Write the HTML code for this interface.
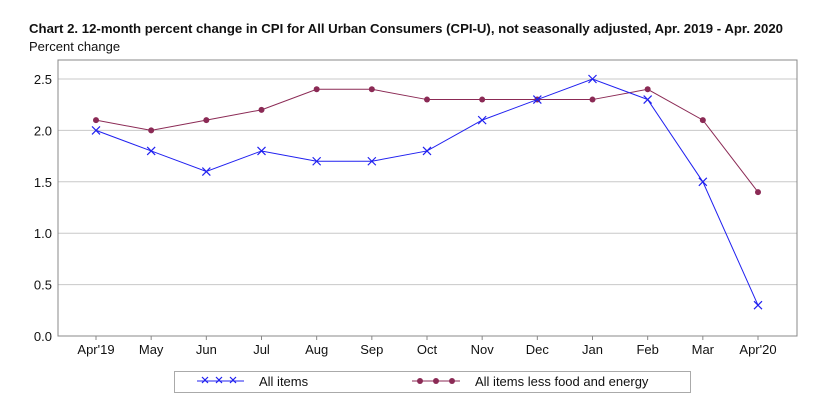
<!DOCTYPE html>
<html><head><meta charset="utf-8"><style>
body{margin:0;background:#fff;width:815px;height:409px;overflow:hidden}
svg{font-family:"Liberation Sans","DejaVu Sans",sans-serif}
</style></head><body>
<svg width="815" height="409">
<text x="29" y="33" font-size="12.5" font-weight="bold" fill="#111" textLength="754" lengthAdjust="spacingAndGlyphs">Chart 2. 12-month percent change in CPI for All Urban Consumers (CPI-U), not seasonally adjusted, Apr. 2019 - Apr. 2020</text>
<text x="29" y="51" font-size="13" fill="#111">Percent change</text>
<g id="grid"></g><g id="axes"></g><g id="series"></g>
<g>
<rect x="174.5" y="371.5" width="516" height="21" fill="none" stroke="#aaa"/>
<line x1="197" y1="381" x2="244" y2="381" stroke="#2020f0"/>
<g stroke="#2020f0" stroke-width="1.2">
<path d="M202 377l6 6M208 377l-6 6M216 377l6 6M222 377l-6 6M230 377l6 6M236 377l-6 6"/></g>
<text x="259" y="386" font-size="13" fill="#111">All items</text>
<line x1="412" y1="381" x2="460" y2="381" stroke="#8b2a55"/>
<circle cx="420" cy="381" r="3" fill="#8b2a55"/><circle cx="436" cy="381" r="3" fill="#8b2a55"/><circle cx="452" cy="381" r="3" fill="#8b2a55"/>
<text x="475" y="386" font-size="13" fill="#111">All items less food and energy</text>
</g>
</svg>
<script>
const categories=["Apr'19","May","Jun","Jul","Aug","Sep","Oct","Nov","Dec","Jan","Feb","Mar","Apr'20"];
const allItems=[2.0,1.8,1.6,1.8,1.7,1.7,1.8,2.1,2.3,2.5,2.3,1.5,0.3];
const core=[2.1,2.0,2.1,2.2,2.4,2.4,2.3,2.3,2.3,2.3,2.4,2.1,1.4];
const yTicks=[0.0,0.5,1.0,1.5,2.0,2.5];
const NS="http://www.w3.org/2000/svg";
const L=58,R=797,T=60,B=336;
const x=i=>96+i*(758-96)/(categories.length-1);
const y=v=>B-v*(B-79)/2.5;
function mk(t,a,p){const e=document.createElementNS(NS,t);for(const k in a)e.setAttribute(k,a[k]);p.appendChild(e);return e;}
const g=document.getElementById('grid'),ax=document.getElementById('axes'),s=document.getElementById('series');
yTicks.forEach(v=>{
 if(v>0){const l=mk('line',{x1:L,x2:R,y1:y(v),y2:y(v),stroke:'#c8c8c8'},g);
 
 }
 const t=mk('text',{x:L-6,y:y(v)+5,'text-anchor':'end','font-size':'13',fill:'#111'},ax);t.textContent=v.toFixed(1);
 
 
});
mk('rect',{x:L,y:T,width:R-L,height:B-T,fill:'none',stroke:'#888'},ax);
categories.forEach((c,i)=>{
 mk('line',{x1:x(i),x2:x(i),y1:B,y2:B+4,stroke:'#888'},ax);
 const t=mk('text',{x:x(i),y:B+18,'text-anchor':'middle','font-size':'13',fill:'#111'},ax);t.textContent=c;
 
 
});
const p1=mk('polyline',{points:core.map((v,i)=>x(i)+','+y(v)).join(' '),fill:'none',stroke:'#8b2a55'},s);


core.forEach((v,i)=>{const c=mk('circle',{cx:x(i),cy:y(v),r:3,fill:'#8b2a55'},s);
 
 });
const p2=mk('polyline',{points:allItems.map((v,i)=>x(i)+','+y(v)).join(' '),fill:'none',stroke:'#2020f0'},s);


allItems.forEach((v,i)=>{const X=x(i),Y=y(v);
 const m=mk('path',{d:`M${X-4} ${Y-4}L${X+4} ${Y+4}M${X+4} ${Y-4}L${X-4} ${Y+4}`,stroke:'#2020f0','stroke-width':1.2},s);
 
 });
</script>
</body></html>
